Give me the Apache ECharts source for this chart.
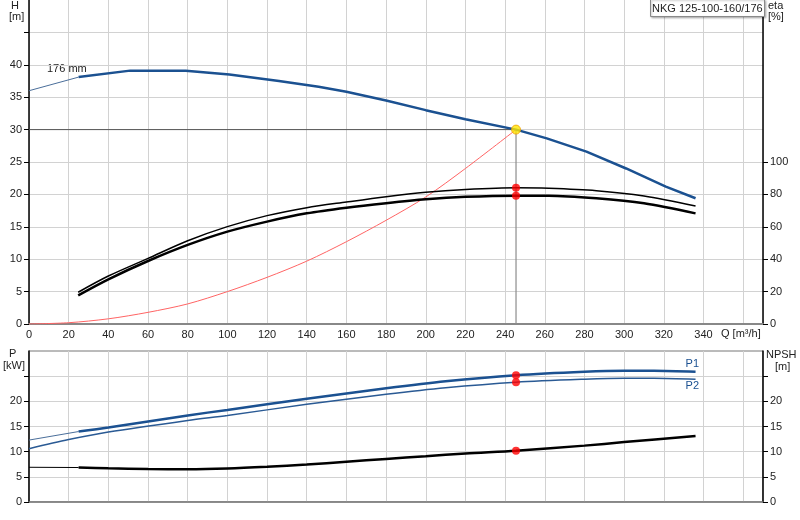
<!DOCTYPE html>
<html>
<head>
<meta charset="utf-8">
<script src="https://cdn.jsdelivr.net/npm/echarts@6/dist/echarts.min.js"></script>
<style>
  html, body { margin: 0; padding: 0; background: #fff; }
  #pump-curve { width: 800px; height: 520px; }
</style>
</head>
<body>
<div id="pump-curve"></div>
<script>
    // duty point
    var dutyQ = 245.5;
    var dutyH = 30;
    var dutyEta = [84.1, 79.2];
    var dutyP = [25.2, 23.8];
    var dutyNpsh = 10.2;

    // Q [m3/h], H [m]  -- 176 mm impeller
    var headLead = [[0, 36.0], [25, 38.1]];
    var headCurve = [
        [25, 38.1], [51, 39.1], [79, 39.1], [101, 38.5], [126, 37.5], [146, 36.6],
        [160, 35.85], [180, 34.5], [200, 33.0], [220, 31.6], [245.5, 30.0],
        [261, 28.65], [281, 26.6], [301, 24.0], [321, 21.2], [336, 19.4]
    ];
    // eta [%]
    var etaUpper = [
        [24.8, 19.6], [40, 29.6], [60, 40.5], [80, 51.4], [100, 60.1], [120, 66.9],
        [140, 71.8], [160, 75.3], [180, 78.6], [200, 81.3], [220, 83.0], [245.5, 84.1],
        [262, 83.8], [286, 82.3], [310, 79.0], [336, 72.8]
    ];
    var etaLower = [
        [24.8, 17.7], [40, 27.6], [60, 38.9], [80, 48.8], [100, 57.0], [120, 63.2],
        [140, 68.3], [160, 71.8], [180, 74.6], [200, 77.0], [220, 78.5], [245.5, 79.2],
        [262, 79.2], [286, 77.6], [310, 74.5], [336, 68.3]
    ];
    // system curve
    var systemCurve = [
        [0, 0], [20, 0.2], [40, 0.8], [60, 1.8], [80, 3.1], [100, 5.0], [120, 7.2],
        [140, 9.7], [160, 12.7], [180, 16.0], [200, 19.6], [220, 24.0], [245.5, 30.0]
    ];
    // P [kW]
    var p1Lead = [[0, 12.3], [25, 14.0]];
    var p1Curve = [
        [25, 14.0], [40, 14.8], [80, 17.2], [100, 18.3], [140, 20.5], [180, 22.6],
        [210, 24.0], [245.5, 25.2], [280, 25.9], [300, 26.1], [315, 26.1], [336, 25.9]
    ];
    var p2Curve = [
        [0, 10.6], [20, 12.4], [40, 13.9], [80, 16.2], [100, 17.2], [140, 19.4],
        [180, 21.4], [210, 22.7], [245.5, 23.8], [280, 24.4], [300, 24.6], [315, 24.6], [336, 24.4]
    ];
    // NPSH [m]
    var npshLead = [[0, 6.9], [25, 6.85]];
    var npshCurve = [
        [25, 6.85], [40, 6.7], [60, 6.55], [80, 6.5], [100, 6.65], [120, 7.0], [140, 7.45],
        [160, 8.0], [180, 8.55], [200, 9.1], [220, 9.65], [245.5, 10.2], [280, 11.2],
        [300, 11.9], [336, 13.1]
    ];

    var qLabels = [0, 20, 40, 60, 80, 100, 120, 140, 160, 180, 200, 220, 240, 260, 280, 300, 320, 340];
    var hLabels = [0, 5, 10, 15, 20, 25, 30, 35, 40];
    var hTicks = [0, 5, 10, 15, 20, 25, 30, 35, 40, 45];
    var etaLabels = [0, 20, 40, 60, 80, 100];
    var pLabels = [0, 5, 10, 15, 20];
    var pTicks = [0, 5, 10, 15, 20, 25];

    var blue = '#1b5191';
    var font = 'Liberation Sans, Arial, sans-serif';

    var dom = document.getElementById('pump-curve');
    var chart = echarts.init(dom, null, { renderer: 'canvas' });

    function yAxisBase(pos, grid, max, interval, labels, ticks) {
        return {
            type: 'value', gridIndex: grid, position: pos, min: 0, max: max, interval: interval,
            axisLine: { show: true, onZero: false, lineStyle: { color: '#000', width: 1.5 } },
            axisTick: { show: true, length: 5, customValues: ticks, lineStyle: { color: '#000' } },
            axisLabel: { customValues: labels, margin: 7, color: '#222', fontSize: 11, fontFamily: font },
            splitLine: { show: false }
        };
    }

    var hAxis = yAxisBase('left', 0, 50, 5, hLabels, hTicks);
    hAxis.splitLine = { show: true, lineStyle: { color: '#d2d2d2', width: 1 } };
    var etaAxis = yAxisBase('right', 0, 200, 20, etaLabels, etaLabels);
    var pAxis = yAxisBase('left', 1, 30, 5, pLabels, pTicks);
    pAxis.splitLine = { show: true, lineStyle: { color: '#d2d2d2', width: 1 } };
    var npshAxis = yAxisBase('right', 1, 30, 5, pLabels, pTicks);

    function line(data, x, y, color, width, extra) {
        var s = {
            type: 'line', data: data, xAxisIndex: x, yAxisIndex: y, symbol: 'none',
            lineStyle: { color: color, width: width }, itemStyle: { color: color },
            silent: true, animation: false, z: 3
        };
        for (var k in extra) s[k] = extra[k];
        return s;
    }

    function dots(data, x, y) {
        return {
            type: 'scatter', data: data, xAxisIndex: x, yAxisIndex: y, symbolSize: 8,
            itemStyle: { color: '#ff0000' }, z: 6, animation: false, silent: true
        };
    }

    function txt(left, top, text) {
        return { type: 'text', left: left, top: top, style: { text: text, fill: '#222', font: '11px ' + font } };
    }

    var option = {
        animation: false,
        backgroundColor: '#fff',
        textStyle: { fontFamily: font },
        title: {
            text: 'NKG 125-100-160/176',
            left: 650, top: -1,
            padding: [4, 2, 3, 2],
            borderColor: '#8a8a8a', borderWidth: 1,
            backgroundColor: '#fff',
            shadowColor: 'rgba(0,0,0,0.25)', shadowBlur: 2, shadowOffsetX: 1, shadowOffsetY: 1,
            textStyle: { fontSize: 11, fontWeight: 'normal', color: '#222', fontFamily: font },
            z: 10
        },
        grid: [
            { left: 29, right: 37, top: 0, height: 324 },
            { left: 29, right: 37, top: 351, height: 151, show: true, borderColor: '#777', borderWidth: 1 }
        ],
        xAxis: [
            {
                type: 'value', gridIndex: 0, min: 0, max: 370, interval: 20,
                axisLine: { show: true, onZero: false, lineStyle: { color: '#888', width: 2 } },
                axisTick: { show: false },
                axisLabel: { customValues: qLabels, margin: 5, color: '#222', fontSize: 11, fontFamily: font },
                splitLine: { show: true, lineStyle: { color: '#d2d2d2', width: 1 } }
            },
            {
                type: 'value', gridIndex: 1, min: 0, max: 370, interval: 20,
                axisLine: { show: true, onZero: false, lineStyle: { color: '#777', width: 1.5 } },
                axisTick: { show: false },
                axisLabel: { show: false },
                splitLine: { show: true, lineStyle: { color: '#d2d2d2', width: 1 } }
            }
        ],
        yAxis: [hAxis, etaAxis, pAxis, npshAxis],
        graphic: [
            txt(11, 0, 'H'),
            txt(9, 11, '[m]'),
            txt(768, 0, 'eta'),
            txt(768, 11, '[%]'),
            txt(721, 328, 'Q [m\u00b3/h]'),
            txt(9, 348, 'P'),
            txt(3, 360, '[kW]'),
            txt(766, 349, 'NPSH'),
            txt(775, 361, '[m]'),
            txt(47, 63, '176 mm')
        ],
        series: [
            // duty point guide lines
            line([[0, dutyH], [dutyQ, dutyH]], 0, 0, '#555', 1, { z: 2 }),
            line([[dutyQ, 0], [dutyQ, dutyH]], 0, 0, '#8c8c8c', 1.2, { z: 2 }),
            line(systemCurve, 0, 0, '#ff6464', 1, { smooth: 0.3 }),
            line(headLead, 0, 0, '#4a6e9a', 1),
            line(headCurve, 0, 0, blue, 2.5),
            line(etaUpper, 0, 1, '#000', 1.5, { smooth: 0.3 }),
            line(etaLower, 0, 1, '#000', 2.5, { smooth: 0.3 }),
            dots([[dutyQ, dutyEta[0]], [dutyQ, dutyEta[1]]], 0, 1),
            {
                type: 'scatter', data: [[dutyQ, dutyH]], xAxisIndex: 0, yAxisIndex: 0, symbolSize: 9,
                itemStyle: { color: '#ffe600', borderColor: '#f0a000', borderWidth: 1 }, z: 7, silent: true
            },
            // lower chart
            line(p1Lead, 1, 2, '#4a6e9a', 1),
            line(p1Curve, 1, 2, blue, 2.5, {
                smooth: 0.3,
                endLabel: { show: true, formatter: 'P1', color: blue, fontSize: 11, fontFamily: font, offset: [-18, -8] }
            }),
            line(p2Curve, 1, 2, '#2a5a94', 1.5, {
                smooth: 0.3,
                endLabel: { show: true, formatter: 'P2', color: blue, fontSize: 11, fontFamily: font, offset: [-18, 7] }
            }),
            line(npshLead, 1, 3, '#000', 1),
            line(npshCurve, 1, 3, '#000', 2.5, { smooth: 0.3 }),
            dots([[dutyQ, dutyP[0]], [dutyQ, dutyP[1]]], 1, 2),
            dots([[dutyQ, dutyNpsh]], 1, 3)
        ]
    };

    if (option && typeof option === 'object') {
        chart.setOption(option);
    }
</script>
</body>
</html>
